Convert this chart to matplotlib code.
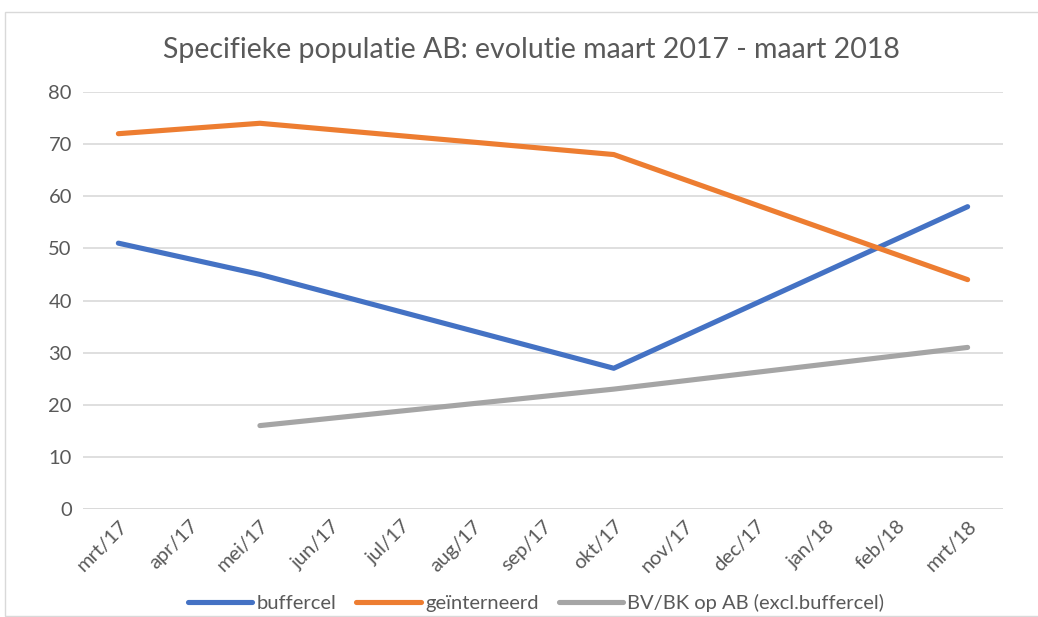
import matplotlib
matplotlib.use("Agg")
import matplotlib.pyplot as plt
from matplotlib.patches import Rectangle

months = ["mrt/17", "apr/17", "mei/17", "jun/17", "jul/17", "aug/17", "sep/17",
          "okt/17", "nov/17", "dec/17", "jan/18", "feb/18", "mrt/18"]
buffercel_idx = [0, 2, 7, 12]
buffercel = [51, 45, 27, 58]
geinterneerd_idx = [0, 2, 7, 12]
geinterneerd = [72, 74, 68, 44]
bvbk_idx = [2, 7, 12]
bvbk = [16, 23, 31]
yticks = [0, 10, 20, 30, 40, 50, 60, 70, 80]

plt.rcParams['font.family'] = ['Lato', 'DejaVu Sans']
fig = plt.figure(figsize=(10.38, 6.17), dpi=100)
W, H = 1038, 617
ax = fig.add_axes([83 / W, 1 - 509 / H, (1003 - 83) / W, (509 - 92) / H])

fig.patches.append(Rectangle((5 / W, 1 - 616 / H), (1040 - 5) / W, (616 - 12) / H,
                             transform=fig.transFigure, fill=False,
                             edgecolor='#D9D9D9', linewidth=1.0))

lw = 3.7
ax.plot(buffercel_idx, buffercel, color='#4472C4', lw=lw, solid_capstyle='round',
        solid_joinstyle='round', label='buffercel')
ax.plot(geinterneerd_idx, geinterneerd, color='#ED7D31', lw=lw, solid_capstyle='round',
        solid_joinstyle='round', label='geïnterneerd')
ax.plot(bvbk_idx, bvbk, color='#A5A5A5', lw=lw, solid_capstyle='round',
        solid_joinstyle='round', label='BV/BK op AB (excl.buffercel)')

ax.set_xlim(-0.5, 12.5)
ax.set_ylim(0, 80)
ax.set_yticks(yticks)
ax.set_xticks(range(len(months)))
ax.set_xticklabels(months, rotation=45, ha='right', rotation_mode='anchor')
ax.tick_params(axis='both', length=0, labelsize=14.5, colors='#595959', pad=8)
ax.tick_params(axis='x', pad=6)
ax.grid(axis='y', color='#D9D9D9', lw=1.2)
ax.set_axisbelow(True)
for s in ax.spines.values():
    s.set_visible(False)
ax.axhline(0, color='#D9D9D9', lw=1.2, zorder=0)

fig.text(531 / W, 1 - 50 / H, 'Specifieke populatie AB: evolutie maart 2017 - maart 2018',
         ha='center', va='center', fontsize=20.5, color='#595959')

fig.legend(loc='center', bbox_to_anchor=(536 / W, 1 - 603 / H), ncol=3, frameon=False,
           fontsize=14.5, labelcolor='#595959', handlelength=3.2, columnspacing=1.0,
           handletextpad=0.2)

fig.savefig('out.png', dpi=100)
